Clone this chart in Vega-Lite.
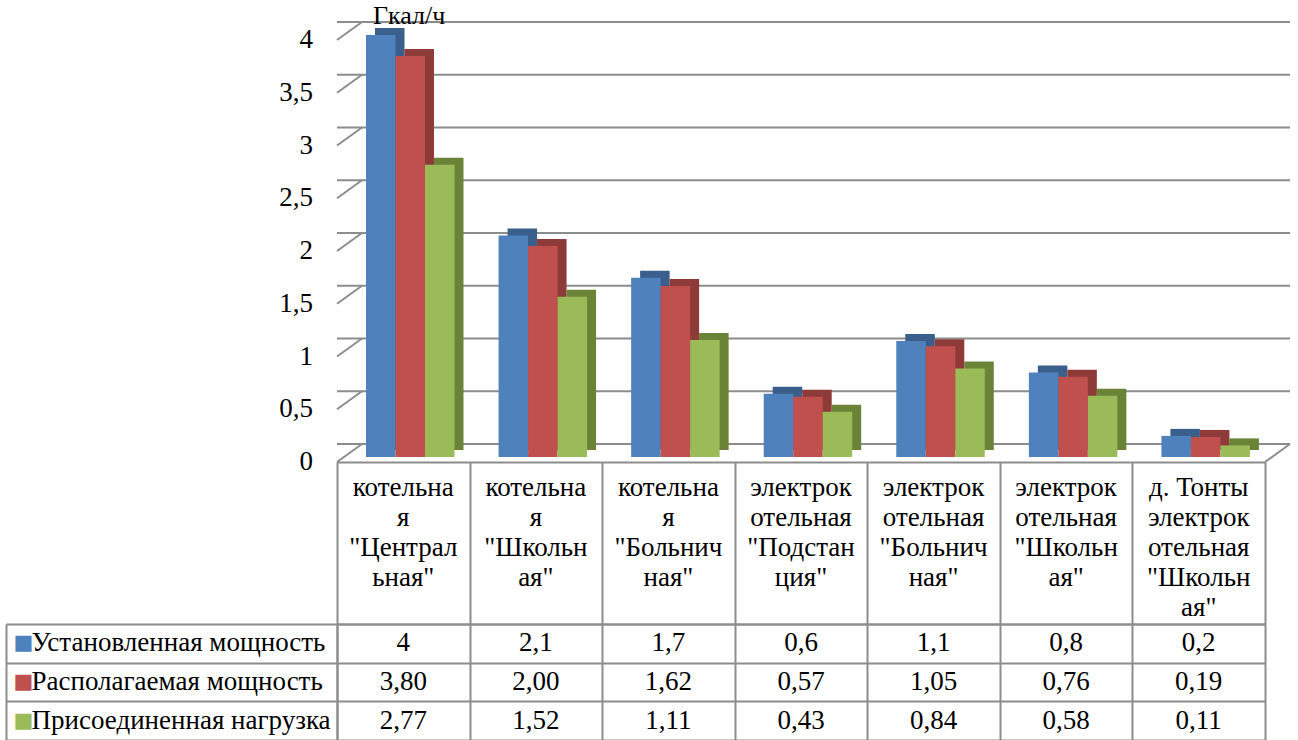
{
  "$schema": "https://vega.github.io/schema/vega-lite/v6.json",
  "background": "white",
  "padding": {"left": 5, "top": 3, "right": 0, "bottom": 0},
  "bounds": "flush",
  "spacing": 162,
  "config": {
    "view": {"stroke": null},
    "font": "Liberation Serif, Times New Roman, serif",
    "axis": {"labelFont": "Liberation Serif, Times New Roman, serif", "titleFont": "Liberation Serif, Times New Roman, serif"},
    "text": {"font": "Liberation Serif, Times New Roman, serif"},
    "locale": {"number": {"decimal": ",", "thousands": " ", "grouping": [3], "currency": ["", ""]}}
  },
  "datasets": {
    "main": [
      {"cat": "котельна\nя\n\"Централ\nьная\"", "series": "Установленная мощность", "value": 4},
      {"cat": "котельна\nя\n\"Централ\nьная\"", "series": "Располагаемая мощность", "value": 3.8},
      {"cat": "котельна\nя\n\"Централ\nьная\"", "series": "Присоединенная нагрузка", "value": 2.77},
      {"cat": "котельна\nя\n\"Школьн\nая\"", "series": "Установленная мощность", "value": 2.1},
      {"cat": "котельна\nя\n\"Школьн\nая\"", "series": "Располагаемая мощность", "value": 2.0},
      {"cat": "котельна\nя\n\"Школьн\nая\"", "series": "Присоединенная нагрузка", "value": 1.52},
      {"cat": "котельна\nя\n\"Больнич\nная\"", "series": "Установленная мощность", "value": 1.7},
      {"cat": "котельна\nя\n\"Больнич\nная\"", "series": "Располагаемая мощность", "value": 1.62},
      {"cat": "котельна\nя\n\"Больнич\nная\"", "series": "Присоединенная нагрузка", "value": 1.11},
      {"cat": "электрок\nотельная\n\"Подстан\nция\"", "series": "Установленная мощность", "value": 0.6},
      {"cat": "электрок\nотельная\n\"Подстан\nция\"", "series": "Располагаемая мощность", "value": 0.57},
      {"cat": "электрок\nотельная\n\"Подстан\nция\"", "series": "Присоединенная нагрузка", "value": 0.43},
      {"cat": "электрок\nотельная\n\"Больнич\nная\"", "series": "Установленная мощность", "value": 1.1},
      {"cat": "электрок\nотельная\n\"Больнич\nная\"", "series": "Располагаемая мощность", "value": 1.05},
      {"cat": "электрок\nотельная\n\"Больнич\nная\"", "series": "Присоединенная нагрузка", "value": 0.84},
      {"cat": "электрок\nотельная\n\"Школьн\nая\"", "series": "Установленная мощность", "value": 0.8},
      {"cat": "электрок\nотельная\n\"Школьн\nая\"", "series": "Располагаемая мощность", "value": 0.76},
      {"cat": "электрок\nотельная\n\"Школьн\nая\"", "series": "Присоединенная нагрузка", "value": 0.58},
      {"cat": "д. Тонты\nэлектрок\nотельная\n\"Школьн\nая\"", "series": "Установленная мощность", "value": 0.2},
      {"cat": "д. Тонты\nэлектрок\nотельная\n\"Школьн\nая\"", "series": "Располагаемая мощность", "value": 0.19},
      {"cat": "д. Тонты\nэлектрок\nотельная\n\"Школьн\nая\"", "series": "Присоединенная нагрузка", "value": 0.11}
    ],
    "levels": [{"v": 0}, {"v": 0.5}, {"v": 1}, {"v": 1.5}, {"v": 2}, {"v": 2.5}, {"v": 3}, {"v": 3.5}, {"v": 4}],
    "unit": [{"unit": "Гкал/ч", "v": 4}]
  },
  "vconcat": [
    {
      "width": 928,
      "height": 422,
      "resolve": {"scale": {"x": "independent", "xOffset": "independent"}},
      "layer": [
        {
          "data": {"name": "levels"},
          "mark": {"type": "rule", "color": "#8c8c8c", "strokeWidth": 2, "xOffset": 25, "x2Offset": 25, "yOffset": -18},
          "encoding": {"y": {"field": "v", "type": "quantitative", "scale": {"domain": [0, 4], "nice": false},
              "axis": {"orient": "left", "title": null, "labels": false, "grid": false, "ticks": false, "domain": true,
                "domainColor": "#8c8c8c", "domainWidth": 2}}}
        },
        {
          "data": {"name": "levels"},
          "mark": {"type": "rule", "color": "#8c8c8c", "strokeWidth": 2, "x2Offset": 25, "y2Offset": -18},
          "encoding": {
            "x": {"datum": 0, "type": "quantitative", "scale": {"domain": [0, 1]}, "axis": null},
            "x2": {"datum": 0},
            "y": {"field": "v", "type": "quantitative", "axis": null},
            "y2": {"field": "v"}
          }
        },
        {
          "data": {"name": "levels"},
          "mark": {"type": "text", "align": "right", "baseline": "middle", "dx": -24, "fontSize": 27, "color": "black"},
          "encoding": {
            "x": {"datum": 0, "type": "quantitative", "scale": {"domain": [0, 1]}, "axis": null},
            "y": {"field": "v", "type": "quantitative", "axis": null},
            "text": {"field": "v", "type": "quantitative", "format": ".1~f"}
          }
        },
        {
          "data": {"name": "unit"},
          "mark": {"type": "text", "align": "left", "baseline": "alphabetic", "dx": 36, "dy": -16, "fontSize": 26, "color": "black"},
          "encoding": {
            "x": {"datum": 0, "type": "quantitative", "scale": {"domain": [0, 1]}, "axis": null},
            "y": {"field": "v", "type": "quantitative", "axis": null},
            "text": {"field": "unit", "type": "nominal"}
          }
        },
        {
          "data": {"name": "levels"},
          "transform": [{"filter": "datum.v == 0"}],
          "mark": {"type": "rule", "color": "#8c8c8c", "strokeWidth": 2, "x2Offset": 25, "y2Offset": -18},
          "encoding": {
            "x": {"datum": 1, "type": "quantitative", "scale": {"domain": [0, 1]}, "axis": null},
            "x2": {"datum": 1},
            "y": {"field": "v", "type": "quantitative", "axis": null},
            "y2": {"field": "v"}
          }
        },
        {
          "data": {"name": "main"},
          "mark": {"type": "bar", "yOffset": -12, "y2Offset": -12},
          "encoding": {
            "x": {"field": "cat", "type": "nominal", "sort": null, "scale": {"paddingInner": 0, "paddingOuter": 0}, "axis": null},
            "xOffset": {"field": "series", "type": "nominal", "sort": null, "scale": {"paddingInner": 0, "paddingOuter": 0.747, "align": 0.862}},
            "y": {"field": "value", "type": "quantitative", "axis": null},
            "fill": {"field": "series", "type": "nominal", "sort": null, "scale": {"domain": ["Установленная мощность", "Располагаемая мощность", "Присоединенная нагрузка"], "range": ["#3a5f8c", "#8e3a38", "#6a8337"]}, "legend": null}
          }
        },
        {
          "data": {"name": "main"},
          "mark": {"type": "bar", "yOffset": -5, "y2Offset": -5},
          "encoding": {
            "x": {"field": "cat", "type": "nominal", "sort": null, "scale": {"paddingInner": 0, "paddingOuter": 0},
              "axis": {"orient": "bottom", "title": null, "ticks": false, "grid": false, "domain": true, "domainColor": "#8c8c8c", "domainWidth": 2,
                "labelExpr": "split(datum.label, '\\n')", "labelFontSize": 27, "labelLineHeight": 30, "labelBaseline": "top", "labelPadding": 12,
                "labelAngle": 0, "labelColor": "black", "labelOverlap": false, "labelLimit": 300}},
            "xOffset": {"field": "series", "type": "nominal", "sort": null, "scale": {"paddingInner": 0, "paddingOuter": 0.747, "align": 0.658}},
            "y": {"field": "value", "type": "quantitative", "axis": null},
            "color": {"field": "series", "type": "nominal", "sort": null, "scale": {"domain": ["Установленная мощность", "Располагаемая мощность", "Присоединенная нагрузка"], "range": ["#4f81bd", "#c0504d", "#9bbb59"]}, "legend": null}
          }
        }
      ]
    },
    {
      "width": 928,
      "height": 116,
      "data": {"name": "main"},
      "resolve": {"axis": {"y": "independent", "x": "independent"}},
      "layer": [
        {
          "transform": [{"filter": "datum.series === 'Установленная мощность'"}],
          "mark": {"type": "text", "fontSize": 27, "color": "black"},
          "encoding": {
            "x": {"field": "cat", "type": "nominal", "sort": null, "scale": {"paddingInner": 0, "paddingOuter": 0},
              "axis": {"orient": "top", "title": null, "labels": false, "ticks": true, "tickBand": "extent", "tickSize": 162, "tickColor": "#8c8c8c", "tickWidth": 2,
                "domain": true, "domainColor": "#8c8c8c", "domainWidth": 2, "grid": true, "gridColor": "#8c8c8c", "gridWidth": 2, "gridOpacity": 1}},
            "y": {"field": "series", "type": "nominal", "scale": {"domain": ["Установленная мощность", "Располагаемая мощность", "Присоединенная нагрузка"], "paddingInner": 0, "paddingOuter": 0},
              "axis": {"orient": "left", "title": null, "labels": false, "ticks": true, "tickBand": "extent", "tickSize": 331, "tickColor": "#8c8c8c", "tickWidth": 2,
                "domain": true, "domainColor": "#8c8c8c", "domainWidth": 2, "grid": true, "gridColor": "#8c8c8c", "gridWidth": 2, "gridOpacity": 1}},
            "text": {"field": "value", "type": "quantitative", "format": ".2~f"}
          }
        },
        {
          "transform": [{"filter": "datum.series !== 'Установленная мощность'"}],
          "mark": {"type": "text", "fontSize": 27, "color": "black"},
          "encoding": {
            "x": {"field": "cat", "type": "nominal", "sort": null, "axis": null},
            "y": {"field": "series", "type": "nominal", "axis": null},
            "text": {"field": "value", "type": "quantitative", "format": ".2f"}
          }
        },
        {
          "mark": {"type": "text", "text": ""},
          "encoding": {
            "y": {"field": "series", "type": "nominal",
              "axis": {"orient": "left", "offset": 331, "title": null, "domain": true, "domainColor": "#8c8c8c", "domainWidth": 2, "ticks": false, "grid": false,
                "labelExpr": "'■'", "labelFont": "DejaVu Sans", "labelFontSize": 21, "labelAlign": "left", "labelPadding": -7, "labelBaseline": "middle",
                "labelColor": {"condition": [{"test": "datum.value === 'Установленная мощность'", "value": "#4f81bd"}, {"test": "datum.value === 'Располагаемая мощность'", "value": "#c0504d"}], "value": "#9bbb59"}}}
          }
        },
        {
          "mark": {"type": "text", "text": ""},
          "encoding": {
            "y": {"field": "series", "type": "nominal",
              "axis": {"orient": "left", "offset": 331, "title": null, "domain": false, "ticks": false, "grid": false,
                "labelAlign": "left", "labelPadding": -25, "labelFontSize": 27, "labelColor": "black", "labelLimit": 400, "labelBaseline": "middle"}}
          }
        }
      ]
    }
  ]
}
